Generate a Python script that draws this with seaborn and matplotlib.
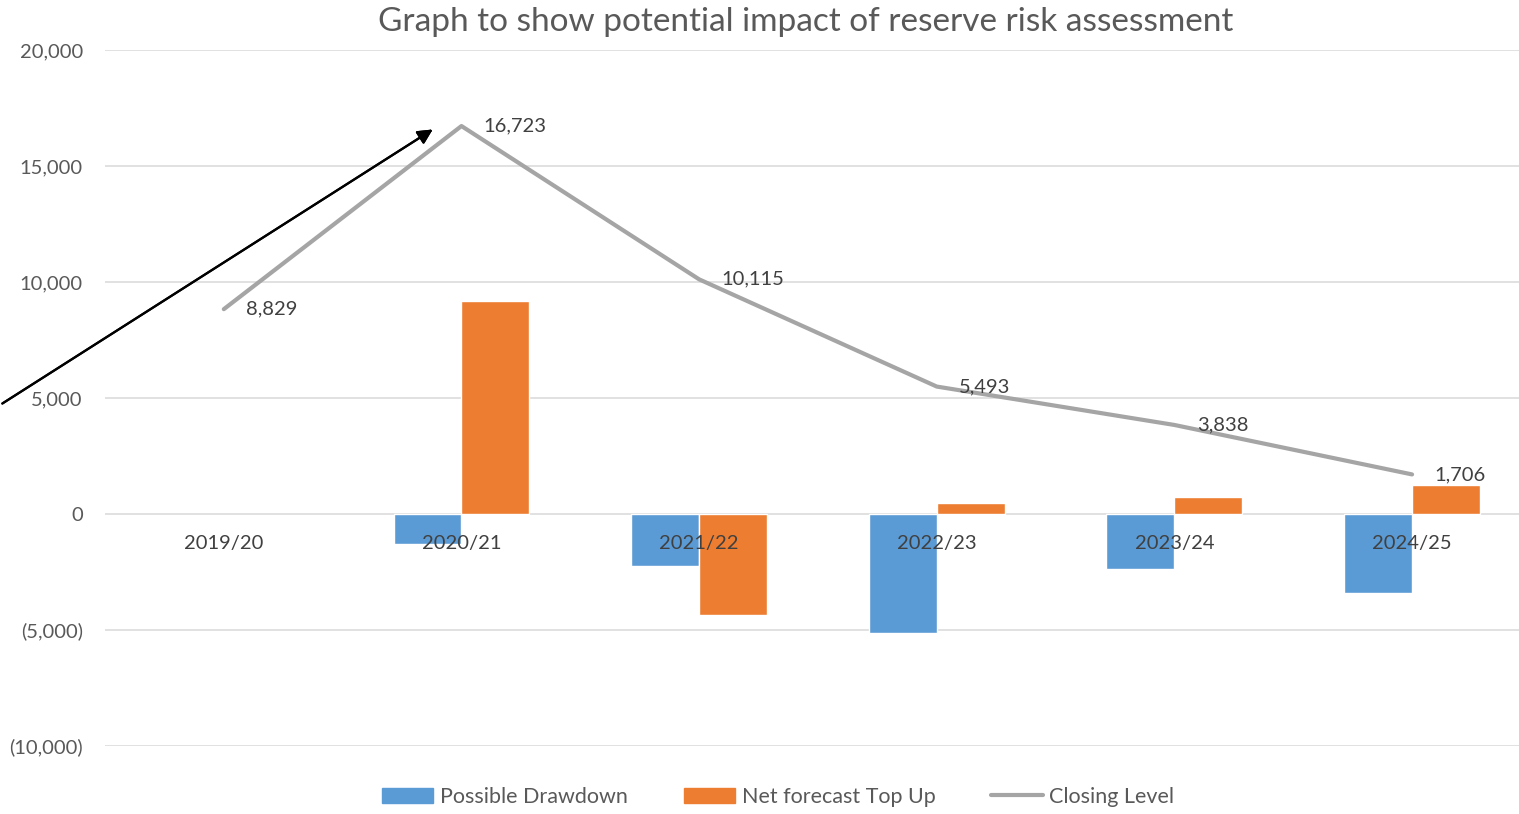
import pandas as pd
import matplotlib.pyplot as plt
import numpy as np
import seaborn as sns
from matplotlib.patches import Patch
from matplotlib.lines import Line2D
from matplotlib.ticker import FuncFormatter
from matplotlib.transforms import offset_copy

years = ['2019/20', '2020/21', '2021/22', '2022/23', '2023/24', '2024/25']
drawdown = [np.nan, -1290, -2250, -5110, -2370, -3400]
top_up = [np.nan, 9184, -4358, 488, 715, 1268]
closing = [8829, 16723, 10115, 5493, 3838, 1706]

BLUE = '#5B9BD5'
ORANGE = '#ED7D31'
GREY = '#A5A5A5'
TXT = '#595959'

sns.set_theme(style='white')
plt.rcParams['font.family'] = ['Lato', 'DejaVu Sans']

df = pd.DataFrame({
    'Year': years * 2,
    'Series': ['Possible Drawdown'] * len(years) + ['Net forecast Top Up'] * len(years),
    'Value': drawdown + top_up,
})

fig = plt.figure(figsize=(15.19, 8.14), dpi=100)
ax = fig.add_axes([105 / 1519, 1 - 746 / 814, 1 - 105 / 1519, (746 - 50) / 814])

sns.barplot(data=df, x='Year', y='Value', hue='Series', order=years,
            palette=[BLUE, ORANGE], width=0.572, saturation=1,
            errorbar=None, ax=ax, legend=False, zorder=2)

xpos = np.arange(len(years))
sns.lineplot(x=xpos, y=closing, color=GREY, linewidth=3, ax=ax, zorder=3)
for x, v in zip(xpos, closing):
    ax.annotate(f'{v:,}', (x, v), xytext=(16, 0), textcoords='offset points',
                ha='left', va='center', fontsize=14.5, color='#404040', zorder=5)

# category labels sit just under the zero line, on top of the bars
lab_tr = offset_copy(ax.transData, fig=fig, x=0, y=-30, units='dots')
for x, y in zip(xpos, years):
    ax.text(x, 0, y, transform=lab_tr, ha='center', va='center',
            fontsize=14.5, color='#404040', zorder=5)

ax.set_xlim(-0.5, 5.45)
ax.set_ylim(-10000, 20000)
ax.set_yticks(np.arange(-10000, 20001, 5000))
ax.yaxis.set_major_formatter(FuncFormatter(
    lambda v, p: f'({abs(v):,.0f})' if v < 0 else f'{v:,.0f}'))
ax.grid(axis='y', color='#D9D9D9', linewidth=1.1, zorder=0)
ax.set_axisbelow(True)
for s in ax.spines.values():
    s.set_visible(False)
ax.tick_params(axis='y', length=0, pad=16, labelsize=14.5, labelcolor=TXT)
ax.tick_params(axis='x', length=0, labelbottom=False)
ax.set_xlabel('')
ax.set_ylabel('')

fig.text(806 / 1519, 1 - 22 / 814, 'Graph to show potential impact of reserve risk assessment',
         ha='center', va='center', fontsize=24, color=TXT)

# arrow drawn over the chart
fig.add_artist(plt.annotate('', xy=(435 / 1519, 1 - 128 / 814), xytext=(0, 1 - 405 / 814),
                            xycoords='figure fraction', textcoords='figure fraction',
                            arrowprops=dict(arrowstyle='-|>', color='black', lw=1.6,
                                            mutation_scale=22)))

handles = [Patch(color=BLUE), Patch(color=ORANGE), Line2D([], [], color=GREY, lw=3)]
fig.legend(handles, ['Possible Drawdown', 'Net forecast Top Up', 'Closing Level'],
           loc='center', bbox_to_anchor=(778 / 1519, 1 - 797 / 814), ncol=3,
           frameon=False, fontsize=15.5, handlelength=2.4, handleheight=0.7,
           handletextpad=0.3, columnspacing=2.6, labelcolor=TXT)

fig.savefig('out.png', dpi=100)
